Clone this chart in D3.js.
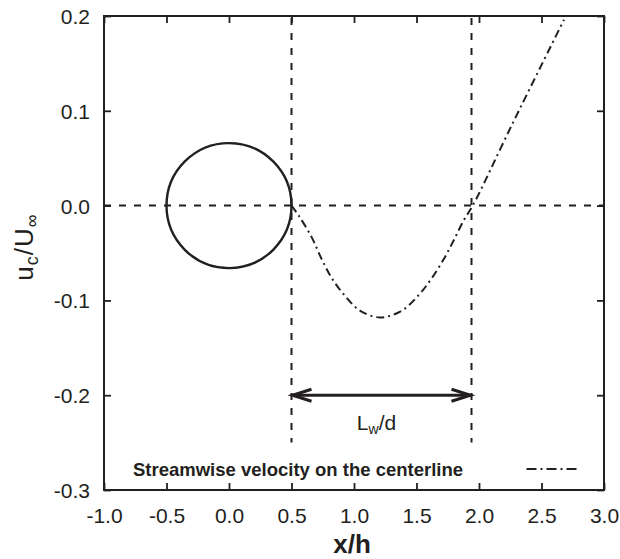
<!DOCTYPE html>
<html>
<head>
<meta charset="utf-8">
<script src="https://cdnjs.cloudflare.com/ajax/libs/d3/7.8.5/d3.min.js"></script>
<style>
  body { margin: 0; background: #fff; }
  text { font-family: "Liberation Sans", Arial, sans-serif; fill: #231f20; }
</style>
</head>
<body>
<div id="chart"></div>
<script>
// tick values
var xTicks = [-1.0, -0.5, 0.0, 0.5, 1.0, 1.5, 2.0, 2.5, 3.0];
var yTicks = [-0.3, -0.2, -0.1, 0.0, 0.1, 0.2];

// centerline streamwise velocity
var curveX = [0.50, 0.56, 0.66, 0.74, 0.82, 0.92, 1.05, 1.21, 1.38, 1.52, 1.62, 1.72, 1.80, 1.88, 1.95, 2.27, 2.68];
var curveY = [0.000, -0.011, -0.033, -0.056, -0.076, -0.094, -0.111, -0.118, -0.111, -0.094, -0.077, -0.056, -0.036, -0.015, 0.000, 0.087, 0.196];

// cylinder and wake length markers
var cylinderX = 0.0;
var cylinderR = 0.5;
var wakeStart = 0.5;
var wakeEnd = 1.94;
var arrowY = -0.2;
var guideBottom = -0.25;
var legendLabel = "Streamwise velocity on the centerline";

var svgWidth = 620;
var svgHeight = 559;

var margin = {
  top: 16,
  right: 16,
  bottom: 69,
  left: 104
};

var width = svgWidth - margin.left - margin.right;
var height = svgHeight - margin.top - margin.bottom;

var ink = "#231f20";

var svg = d3.select("#chart")
  .append("svg")
  .attr("width", svgWidth)
  .attr("height", svgHeight);

var chartGroup = svg.append("g")
  .attr("transform", `translate(${margin.left}, ${margin.top})`);

var xScale = d3.scaleLinear().domain([-1, 3]).range([0, width]);
var yScale = d3.scaleLinear().domain([-0.3, 0.2]).range([height, 0]);

var fmt = function(d) { return d3.format(".1f")(d).replace("−", "-"); };

// axes, ticks pointing inward on all four sides
var bottomAxis = d3.axisBottom(xScale).tickValues(xTicks).tickSize(-7).tickPadding(18).tickFormat(fmt);
var leftAxis = d3.axisLeft(yScale).tickValues(yTicks).tickSize(-7).tickPadding(14).tickFormat(fmt);
var topAxis = d3.axisTop(xScale).tickValues(xTicks).tickSize(-7).tickFormat("");
var rightAxis = d3.axisRight(yScale).tickValues(yTicks).tickSize(-7).tickFormat("");

var xAxisG = chartGroup.append("g")
  .attr("transform", `translate(0, ${height})`)
  .call(bottomAxis);
var yAxisG = chartGroup.append("g").call(leftAxis);
var topG = chartGroup.append("g").call(topAxis);
var rightG = chartGroup.append("g")
  .attr("transform", `translate(${width}, 0)`)
  .call(rightAxis);

[xAxisG, yAxisG, topG, rightG].forEach(function(g) {
  g.select(".domain").remove();
  g.selectAll(".tick line").attr("stroke", ink).attr("stroke-width", 1.8);
  g.selectAll(".tick text")
    .attr("font-size", 21)
    .attr("fill", ink)
    .attr("font-family", "Liberation Sans, Arial, sans-serif");
});
topG.selectAll(".tick text").remove();
rightG.selectAll(".tick text").remove();
yAxisG.selectAll(".tick text").attr("dy", "0.36em");
xAxisG.selectAll(".tick text").attr("dy", 0).attr("y", 33);

// frame
chartGroup.append("rect")
  .attr("width", width)
  .attr("height", height)
  .attr("fill", "none")
  .attr("stroke", ink)
  .attr("stroke-width", 2);

// dashed guides
chartGroup.append("line")
  .attr("x1", xScale(-1)).attr("x2", xScale(3))
  .attr("y1", yScale(0)).attr("y2", yScale(0))
  .attr("stroke", ink).attr("stroke-width", 2)
  .attr("stroke-dasharray", "7,8");

[wakeStart, wakeEnd].forEach(function(v) {
  chartGroup.append("line")
    .attr("x1", xScale(v)).attr("x2", xScale(v))
    .attr("y1", yScale(0.2) + 2).attr("y2", yScale(guideBottom))
    .attr("stroke", ink).attr("stroke-width", 2)
    .attr("stroke-dasharray", "7,8");
});

// cylinder
chartGroup.append("circle")
  .attr("cx", xScale(cylinderX))
  .attr("cy", yScale(0))
  .attr("r", xScale(cylinderR) - xScale(0))
  .attr("fill", "none")
  .attr("stroke", ink)
  .attr("stroke-width", 2.4);

// velocity curve
var curveData = curveX.map(function(d, i) { return [d, curveY[i]]; });
var line = d3.line()
  .x(d => xScale(d[0]))
  .y(d => yScale(d[1]))
  .curve(d3.curveCatmullRom.alpha(0.5));

chartGroup.append("path")
  .datum(curveData)
  .attr("d", line)
  .attr("fill", "none")
  .attr("stroke", ink)
  .attr("stroke-width", 2)
  .attr("stroke-dasharray", "8,4,2,4");

// wake length arrow
var ax1 = xScale(wakeStart), ax2 = xScale(wakeEnd), ay = yScale(arrowY);
chartGroup.append("line")
  .attr("x1", ax1 + 1).attr("x2", ax2 - 1)
  .attr("y1", ay).attr("y2", ay)
  .attr("stroke", ink).attr("stroke-width", 3);
chartGroup.append("path")
  .attr("d", `M${ax1 + 20},${ay - 6}L${ax1 + 1},${ay}L${ax1 + 20},${ay + 6}`)
  .attr("fill", "none").attr("stroke", ink).attr("stroke-width", 3);
chartGroup.append("path")
  .attr("d", `M${ax2 - 20},${ay - 6}L${ax2 - 1},${ay}L${ax2 - 20},${ay + 6}`)
  .attr("fill", "none").attr("stroke", ink).attr("stroke-width", 3);

var lw = chartGroup.append("text")
  .attr("x", (ax1 + ax2) / 2 - 5)
  .attr("y", ay + 35)
  .attr("text-anchor", "middle")
  .attr("font-size", 21);
lw.append("tspan").text("L");
lw.append("tspan").attr("font-size", 14).attr("dy", 4).text("w");
lw.append("tspan").attr("dy", -4).text("/d");

// legend
chartGroup.append("text")
  .attr("x", xScale(-1) + 29)
  .attr("y", height - 14)
  .attr("font-size", 18.5)
  .attr("font-weight", "bold")
  .text(legendLabel);

chartGroup.append("line")
  .attr("x1", xScale(2.38)).attr("x2", xScale(2.81))
  .attr("y1", height - 21).attr("y2", height - 21)
  .attr("stroke", ink).attr("stroke-width", 2)
  .attr("stroke-dasharray", "10,4,2,4");

// axis titles
svg.append("text")
  .attr("x", margin.left + width / 2 - 2)
  .attr("y", 553)
  .attr("text-anchor", "middle")
  .attr("font-size", 26)
  .attr("font-weight", "bold")
  .text("x/h");

var yTitle = svg.append("text")
  .attr("transform", "translate(33, 247) rotate(-90)")
  .attr("text-anchor", "middle")
  .attr("font-size", 26)
  .attr("letter-spacing", 1);
yTitle.append("tspan").text("u");
yTitle.append("tspan").attr("font-size", 18).attr("dy", 5).text("c");
yTitle.append("tspan").attr("dy", -5).text("/U");
yTitle.append("tspan").attr("font-size", 18).attr("dy", 5).text("∞");
</script>
</body>
</html>
